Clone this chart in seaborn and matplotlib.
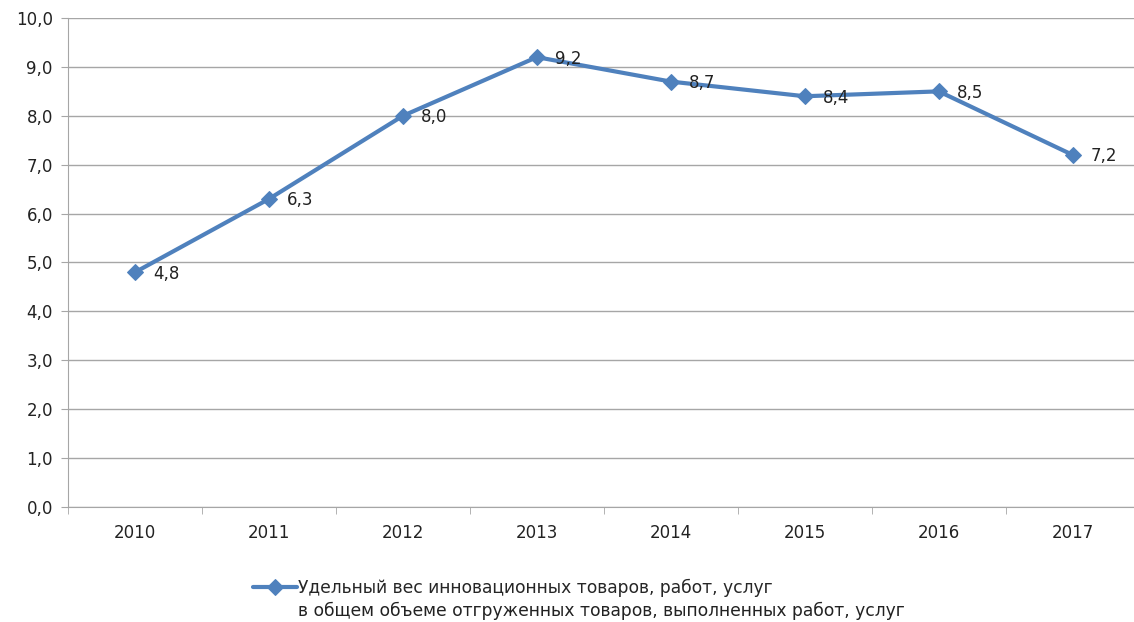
import pandas as pd
import matplotlib
matplotlib.use('Agg')
import matplotlib.pyplot as plt
import seaborn as sns

# ===============================
# Data
# ===============================
years = ['2010', '2011', '2012', '2013', '2014', '2015', '2016', '2017']
share = [4.8, 6.3, 8.0, 9.2, 8.7, 8.4, 8.5, 7.2]
series_line1 = 'Удельный вес инновационных товаров, работ, услуг'
series_line2 = 'в общем объеме отгруженных товаров, выполненных работ, услуг'

df = pd.DataFrame({'year': years, 'value': share})
df['pos'] = range(len(df))

sns.set_style('white')
plt.rcParams['font.family'] = ['DejaVu Sans']

blue = '#4F81BD'
grid = '#A6A6A6'

fig = plt.figure(figsize=(11.34, 6.22), dpi=100)
ax = fig.add_axes([0.06, 0.185, 0.945, 0.786])

sns.lineplot(data=df, x='pos', y='value', ax=ax, color=blue, linewidth=3,
             marker='D', markersize=8, markeredgecolor=blue, label=series_line1)

# value labels
for p, v in zip(df['pos'], df['value']):
    ax.annotate(f'{v:.1f}'.replace('.', ','), (p, v), xytext=(13, -1),
                textcoords='offset points', fontsize=12, color='#222222',
                va='center', ha='left')

ax.set_xlim(-0.5, len(years) - 0.5)
ax.set_ylim(0, 10)
ax.set_yticks([i for i in range(11)])
ax.set_yticklabels([f'{i},0' for i in range(11)], fontsize=12, color='#222222')
ax.set_xticks(df['pos'])
ax.set_xticklabels(years, fontsize=12, color='#222222')
ax.tick_params(axis='x', length=0, pad=12)
ax.tick_params(axis='y', length=5, color=grid, pad=6, left=True)
# category boundary tick marks
ax.set_xticks([i - 0.5 for i in range(len(years) + 1)], minor=True)
ax.tick_params(axis='x', which='minor', length=5, color=grid, bottom=True)

ax.yaxis.grid(True, color=grid, linewidth=1)
ax.set_axisbelow(True)
for s in ['top', 'right']:
    ax.spines[s].set_visible(False)
ax.spines['left'].set_color(grid)
ax.spines['bottom'].set_color(grid)
ax.set_xlabel('')
ax.set_ylabel('')

ax.get_legend().remove()
h, l = ax.get_legend_handles_labels()
fig.legend(h, l, loc='center left', bbox_to_anchor=(0.2227, 1 - 588 / 622),
           frameon=False, handlelength=2.6, handletextpad=0.05,
           borderaxespad=0, borderpad=0,
           prop={'family': 'DejaVu Sans', 'size': 12.3})
fig.text(298 / 1134, 1 - 611 / 622, series_line2, fontsize=12.3,
         color='#222222', ha='left', va='center')

plt.savefig('out.png', dpi=100)
plt.close()
